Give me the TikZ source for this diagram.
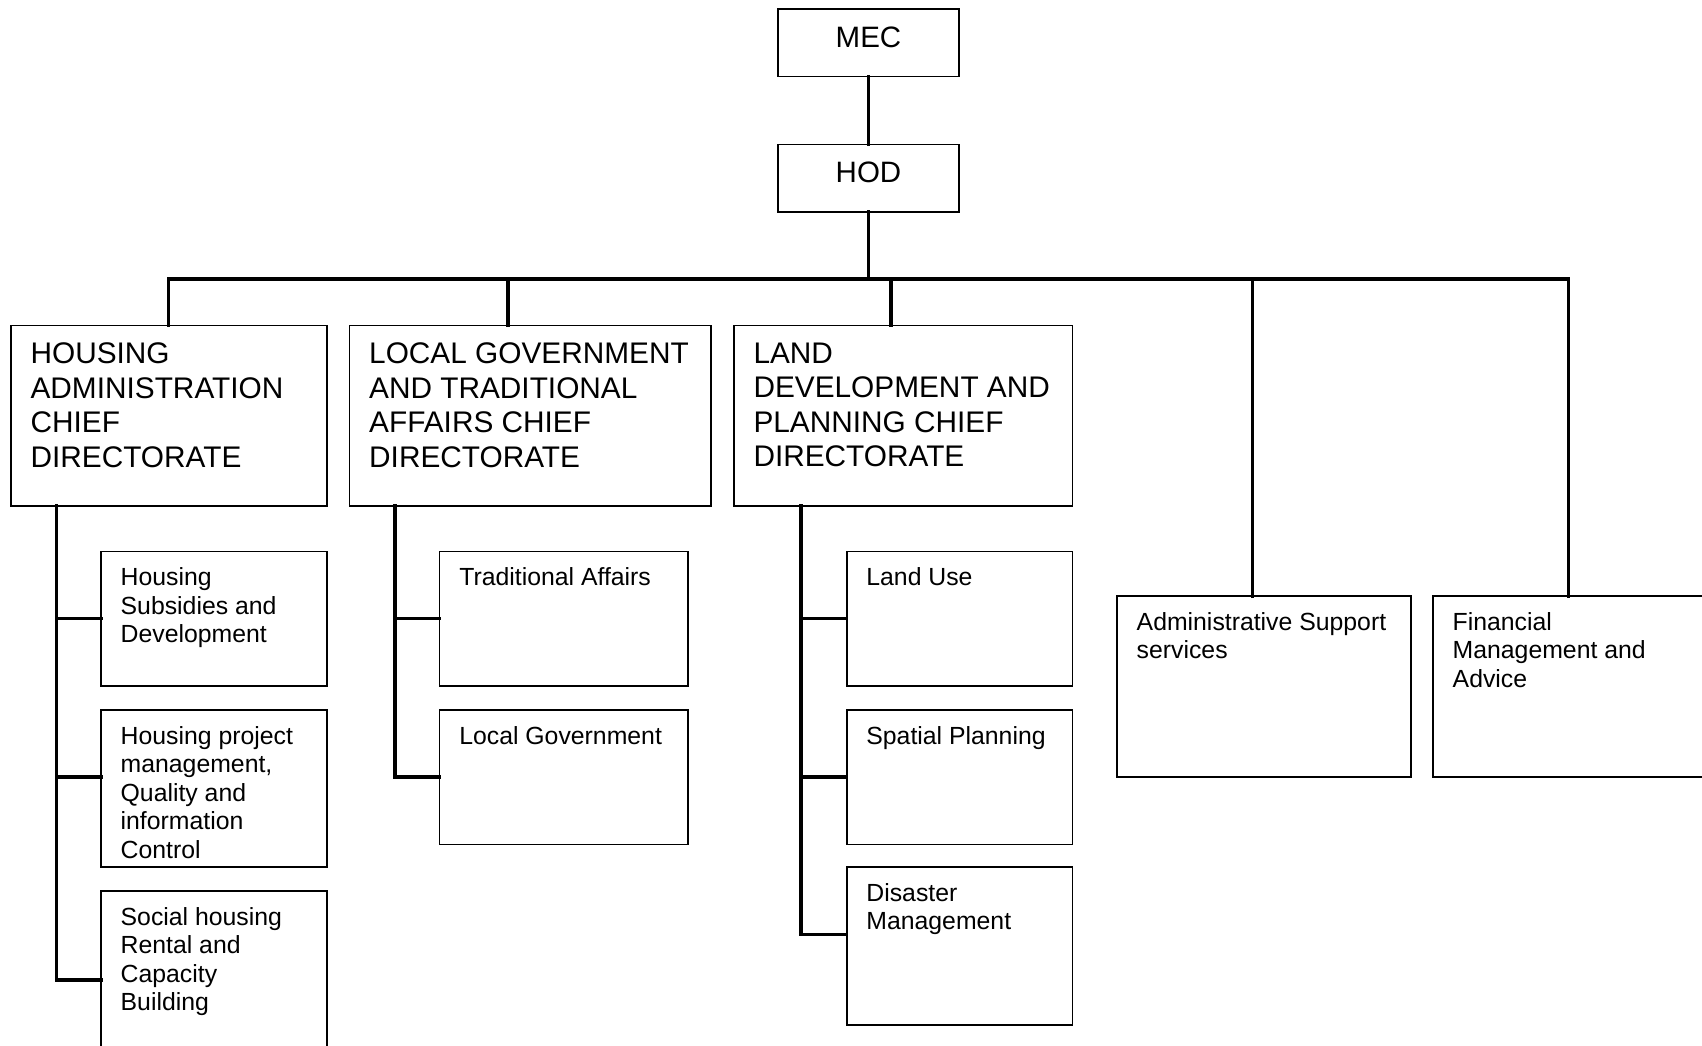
\documentclass[tikz,border=0pt]{standalone}
\usepackage{fontspec}
\setmainfont{Liberation Sans}
\begin{document}
\begin{tikzpicture}[x=1pt,y=-1pt,
  box/.style={draw=black,line width=1.7pt,inner sep=0pt,outer sep=0pt,anchor=north west,fill=white},
  big/.style={anchor=north west,inner sep=0pt,align=left,font=\fontsize{29.8}{34.5}\selectfont},
  small/.style={anchor=north west,inner sep=0pt,align=left,font=\fontsize{24.8}{28.5}\selectfont},
  top/.style={anchor=north,inner sep=0pt,font=\fontsize{29.5}{34}\selectfont},
  conn/.style={line width=3.5pt,line join=miter,line cap=rect}]
\useasboundingbox (0,0) rectangle (1702,1045);
\clip (0,0) rectangle (1702,1045);
% boxes
\node[box,minimum width=181pt,minimum height=67.5pt] (mec) at (778,9) {};
\node[box,minimum width=181pt,minimum height=67.3pt] (hod) at (778,144.4) {};
\node[box,minimum width=315.8pt,minimum height=180.2pt] (hous) at (10.9,325.6) {};
\node[box,minimum width=361.5pt,minimum height=180.2pt] (locg) at (349.5,325.6) {};
\node[box,minimum width=338.7pt,minimum height=180.2pt] (land) at (733.8,325.6) {};
\node[box,minimum width=225.7pt,minimum height=134.6pt] (hs1) at (101,551.4) {};
\node[box,minimum width=225.7pt,minimum height=157.3pt] (hs2) at (101,710) {};
\node[box,minimum width=225.7pt,minimum height=220pt] (hs3) at (101,891) {};
\node[box,minimum width=248.6pt,minimum height=134.6pt] (ls1) at (439.6,551.4) {};
\node[box,minimum width=248.6pt,minimum height=134.6pt] (ls2) at (439.6,710) {};
\node[box,minimum width=225.8pt,minimum height=134.6pt] (ds1) at (846.7,551.4) {};
\node[box,minimum width=225.8pt,minimum height=134.6pt] (ds2) at (846.7,710) {};
\node[box,minimum width=225.8pt,minimum height=157.4pt] (ds3) at (846.7,867.3) {};
\node[box,minimum width=294pt,minimum height=181.2pt] (adm) at (1117,596) {};
\node[box,minimum width=330pt,minimum height=181.2pt] (fin) at (1433,596) {};
% texts
\node[top] (tmec) at ([yshift=-17.4pt]mec.north) {MEC};
\node[top] (thod) at ([yshift=-17pt]hod.north) {HOD};
\node[big] (thous) at ([shift={(19.5,17)}]hous.north west) {HOUSING\\ADMINISTRATION\\CHIEF\\DIRECTORATE};
\node[big] (tlocg) at ([shift={(19.5,17)}]locg.north west) {LOCAL GOVERNMENT\\AND TRADITIONAL\\AFFAIRS CHIEF\\DIRECTORATE};
\node[big] (tland) at ([shift={(19.5,17)}]land.north west) {LAND\\DEVELOPMENT AND\\PLANNING CHIEF\\DIRECTORATE};
\node[small] (ths1) at ([shift={(19.5,16)}]hs1.north west) {Housing\\Subsidies and\\Development};
\node[small] (ths2) at ([shift={(19.5,16)}]hs2.north west) {Housing project\\management,\\Quality and\\information\\Control};
\node[small] (ths3) at ([shift={(19.5,16)}]hs3.north west) {Social housing\\Rental and\\Capacity\\Building};
\node[small] (tls1) at ([shift={(19.5,16)}]ls1.north west) {Traditional Affairs};
\node[small] (tls2) at ([shift={(19.5,16)}]ls2.north west) {Local Government};
\node[small] (tds1) at ([shift={(19.5,16)}]ds1.north west) {Land Use};
\node[small] (tds2) at ([shift={(19.5,16)}]ds2.north west) {Spatial Planning};
\node[small] (tds3) at ([shift={(19.5,16)}]ds3.north west) {Disaster\\Management};
\node[small] (tadm) at ([shift={(19.5,16)}]adm.north west) {Administrative Support\\services};
\node[small] (tfin) at ([shift={(19.5,16)}]fin.north west) {Financial\\Management and\\Advice};
% bus coordinates
\coordinate (b1) at (168.3,279);
\coordinate (b2) at (508,279);
\coordinate (b3) at (891.2,279);
\coordinate (b4) at (1252.7,279);
\coordinate (b5) at (1568.5,279);
% connectors
\draw[conn] (mec.south) -- (hod.north);
\draw[conn] (hod.south) -- (hod.south |- b1);
\draw[conn] (b1) -- (b5);
\draw[conn] (b1) -- (b1 |- hous.north);
\draw[conn] (b2) -- (b2 |- locg.north);
\draw[conn] (b3) -- (b3 |- land.north);
\draw[conn] (b4) -- (b4 |- adm.north);
\draw[conn] (b5) -- (b5 |- fin.north);
% housing spine
\coordinate (sh) at (56.4,505.8);
\draw[conn] (sh |- hous.south) |- (hs3.west |- 0,980.2);
\draw[conn] (sh |- 0,618.7) -- (hs1.west |- 0,618.7);
\draw[conn] (sh |- 0,777.2) -- (hs2.west |- 0,777.2);
% local gov spine
\coordinate (sl) at (395.1,505.8);
\draw[conn] (sl |- locg.south) |- (ls2.west |- 0,777.2);
\draw[conn] (sl |- 0,618.7) -- (ls1.west |- 0,618.7);
% land spine
\coordinate (sd) at (801.1,505.8);
\draw[conn] (sd |- land.south) |- (ds3.west |- 0,934.6);
\draw[conn] (sd |- 0,618.7) -- (ds1.west |- 0,618.7);
\draw[conn] (sd |- 0,777.2) -- (ds2.west |- 0,777.2);
\end{tikzpicture}
\end{document}
